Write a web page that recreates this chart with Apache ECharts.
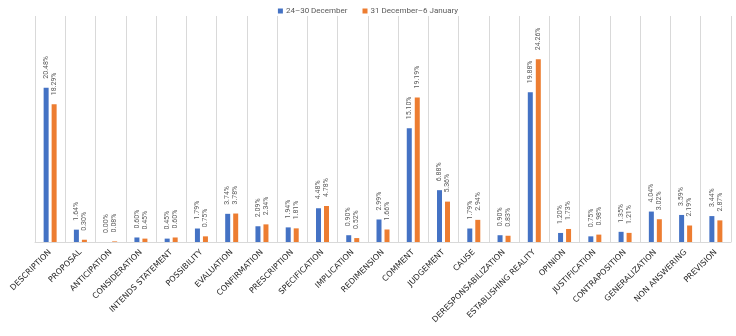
<!DOCTYPE html>
<html>
<head>
<meta charset="utf-8">
<script src="https://cdn.jsdelivr.net/npm/echarts@6/dist/echarts.min.js"></script>
<style>
  html, body { margin: 0; padding: 0; background: #fff; }
  #chart { width: 736px; height: 336px; }
</style>
</head>
<body>
<div id="chart"></div>
<script>
// categories (x axis)
const categories = [
    'DESCRIPTION', 'PROPOSAL', 'ANTICIPATION', 'CONSIDERATION', 'INTENDS STATEMENT',
    'POSSIBILITY', 'EVALUATION', 'CONFIRMATION', 'PRESCRIPTION', 'SPECIFICATION',
    'IMPLICATION', 'REDIMENSION', 'COMMENT', 'JUDGEMENT', 'CAUSE',
    'DERESPONSABILIZATION', 'ESTABLISHING REALITY', 'OPINION', 'JUSTIFICATION',
    'CONTRAPOSITION', 'GENERALIZATION', 'NON ANSWERING', 'PREVISION'
];

// series names
const seriesNames = ['24\u201330 December', '31 December\u20136 January'];

// share of each category, in percent
const december = [
    20.48, 1.64, 0.00, 0.60, 0.45, 1.79, 3.74, 2.09, 1.94, 4.48, 0.90, 2.99,
    15.10, 6.88, 1.79, 0.90, 19.88, 1.20, 0.75, 1.35, 4.04, 3.59, 3.44
];
const january = [
    18.29, 0.30, 0.08, 0.45, 0.60, 0.75, 3.78, 2.34, 1.81, 4.78, 0.52, 1.66,
    19.19, 5.36, 2.94, 0.83, 24.26, 1.73, 0.98, 1.21, 3.02, 2.19, 2.87
];

const colors = ['#4472C4', '#ED7D31'];

//value label on top of each bar
function barLabel() {
    return {
        show: true,
        position: 'top',
        rotate: 90,
        align: 'left',
        verticalAlign: 'middle',
        distance: 9,
        fontSize: 7,
        fontFamily: 'Roboto',
        color: '#595959',
        formatter: p => p.value.toFixed(2) + '%'
    };
}

function makeSeries(name, data, color) {
    return {
        name: name,
        type: 'bar',
        data: data,
        barWidth: 5,
        barGap: '60%',
        itemStyle: { color: color },
        label: barLabel()
    };
}

let option = {
    animation: false,
    color: colors,
    legend: {
        top: 2,
        left: 'center',
        itemWidth: 5,
        itemHeight: 5,
        itemGap: 15,
        icon: 'rect',
        textStyle: { fontSize: 8, fontFamily: 'Roboto', color: '#595959', padding: [0, 0, 0, -2] },
        data: seriesNames
    },
    grid: { left: 35, right: 5, top: 16, bottom: 94, containLabel: false },
    xAxis: {
        type: 'category',
        data: categories,
        axisTick: { show: false },
        axisLine: { lineStyle: { color: '#d9d9d9', width: 1 } },
        splitLine: { show: true, interval: 0, lineStyle: { color: '#d9d9d9', width: 1 } },
        axisLabel: {
            interval: 0,
            rotate: 45,
            margin: 9,
            fontSize: 8,
            fontFamily: 'DejaVu Sans',
            color: '#262626'
        }
    },
    yAxis: {
        type: 'value',
        min: 0,
        max: 30,
        show: false,
        splitLine: { show: false }
    },
    series: [
        makeSeries(seriesNames[0], december, colors[0]),
        makeSeries(seriesNames[1], january, colors[1])
    ]
};

let myChart = echarts.init(document.querySelector('#chart'));
myChart.setOption(option);
</script>
</body>
</html>
